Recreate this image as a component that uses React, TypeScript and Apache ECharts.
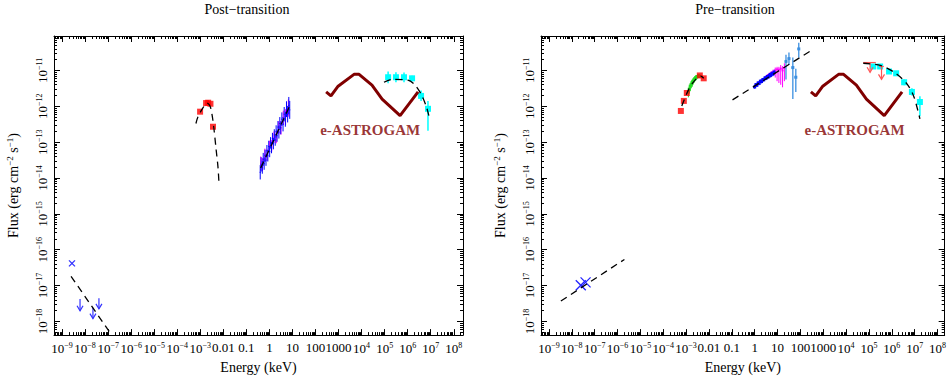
import React, { useEffect, useRef } from 'react';
import * as echarts from 'echarts';

const FONT = "'Liberation Serif', 'DejaVu Serif', serif";

// ---- axis ranges (log10 units) ----
const X_MIN = -9.35;
const X_MAX_POST = 8.4;
const X_MAX_PRE = 8.314;
const Y_MIN = -18.38;
const Y_MAX = -10.04;

// ---- tick labels ----
const xTickExp = [-9, -8, -7, -6, -5, -4, -3, -2, -1, 0, 1, 2, 3, 4, 5, 6, 7, 8];
const xTickText = [
  '{b|10}{s|−9}', '{b|10}{s|−8}', '{b|10}{s|−7}', '{b|10}{s|−6}', '{b|10}{s|−5}', '{b|10}{s|−4}', '{b|10}{s|−3}',
  '0.01', '0.1', '1', '10', '100', '1000',
  '{b|10}{s|4}', '{b|10}{s|5}', '{b|10}{s|6}', '{b|10}{s|7}', '{b|10}{s|8}',
];
const yTickExp = [-18, -17, -16, -15, -14, -13, -12, -11];
const yTickText = [
  '{b|10}{s|−18}', '{b|10}{s|−17}', '{b|10}{s|−16}', '{b|10}{s|−15}',
  '{b|10}{s|−14}', '{b|10}{s|−13}', '{b|10}{s|−12}', '{b|10}{s|−11}',
];

// ---- shared ----
const astrogam = [[2.46, -11.6], [2.67, -11.71], [2.98, -11.44], [3.67, -11.11], [3.89, -11.11], [4.45, -11.41], [4.89, -11.8], [5.67, -12.26], [6.45, -11.6]];
const astrogamLabel = [[4.37, -12.65]];

// ---- Post-transition (log10 E[keV], log10 F) ----
const postOptSquares = [[-3.01, -12.15], [-2.75, -11.91], [-2.66, -11.9], [-2.56, -11.93], [-2.45, -12.57]];
const postOptModel = [[-3.19, -12.48], [-3.1, -12.29], [-2.88, -12.04], [-2.71, -11.91], [-2.58, -11.99], [-2.49, -12.24], [-2.41, -12.62], [-2.32, -13.17], [-2.23, -13.72], [-2.19, -14.16]];
// [logE, logF, dy]
const postXrayMagenta = [[-0.38, -13.6, 0.2], [-0.3, -13.62, 0.18], [-0.2, -13.36, 0.18], [-0.1, -13.36, 0.16], [0.0, -13.12, 0.16], [0.1, -13.1, 0.16], [0.2, -12.86, 0.16], [0.3, -12.86, 0.17], [0.4, -12.6, 0.18], [0.5, -12.6, 0.19], [0.6, -12.32, 0.2], [0.7, -12.3, 0.22], [0.82, -12.05, 0.24]];
const postXrayBlue = [[-0.4, -13.84, 0.2], [-0.36, -13.62, 0.2], [-0.31, -13.7, 0.18], [-0.27, -13.48, 0.18], [-0.23, -13.6, 0.17], [-0.19, -13.38, 0.17], [-0.15, -13.5, 0.16], [-0.11, -13.24, 0.16], [-0.07, -13.38, 0.16], [-0.03, -13.12, 0.16], [0.01, -13.26, 0.16], [0.05, -13.02, 0.16], [0.09, -13.15, 0.16], [0.13, -12.9, 0.16], [0.17, -13.04, 0.16], [0.21, -12.8, 0.16], [0.25, -12.94, 0.16], [0.29, -12.7, 0.17], [0.33, -12.82, 0.17], [0.37, -12.58, 0.17], [0.41, -12.72, 0.18], [0.45, -12.48, 0.18], [0.49, -12.6, 0.18], [0.54, -12.36, 0.19], [0.59, -12.5, 0.2], [0.64, -12.22, 0.2], [0.69, -12.36, 0.21], [0.74, -12.08, 0.22], [0.79, -12.22, 0.23], [0.84, -11.98, 0.24], [0.88, -12.1, 0.25]];
const postXrayModel = [[-0.38, -13.72], [0.86, -12.02]];
// [logE, logF, yLo, yHi, xLo, xHi]
const postGamma = [[5.15, -11.19, -11.36, -11.03, 5.05, 5.27], [5.49, -11.19, -11.33, -11.05, 5.38, 5.6], [5.84, -11.19, -11.33, -11.06, 5.72, 5.95], [6.19, -11.22, -11.3, -11.15, 6.08, 6.3], [6.58, -11.71, -11.85, -11.56, 6.47, 6.69], [6.88, -12.07, -12.68, -11.85, 6.8, 6.96]];
const postGammaModel = [[4.97, -11.33], [5.32, -11.25], [6.01, -11.27], [6.32, -11.41], [6.58, -11.66], [6.8, -11.99], [6.93, -12.29]];
const postRadioCross = [[-8.57, -16.38]];
// [logE, top, bottom]
const postRadioLimits = [[-8.22, -17.37, -17.7], [-7.66, -17.62, -17.92], [-7.4, -17.35, -17.65]];
const postRadioModel = [[-8.61, -16.74], [-6.92, -18.31]];

// ---- Pre-transition ----
const preOptSquares = [[-3.23, -12.13], [-3.1, -11.85], [-2.97, -11.63], [-2.4, -11.14], [-2.23, -11.22]];
// [logE, logF, yLo, yHi]
const preOptGreen = [[-2.9, -11.6, -11.75, -11.5], [-2.86, -11.52, -11.64, -11.44], [-2.82, -11.44, -11.58, -11.36], [-2.78, -11.4, -11.5, -11.32], [-2.74, -11.34, -11.46, -11.27], [-2.7, -11.3, -11.4, -11.24], [-2.66, -11.26, -11.35, -11.2], [-2.62, -11.23, -11.3, -11.17], [-2.58, -11.2, -11.28, -11.14], [-2.54, -11.18, -11.25, -11.13], [-2.5, -11.17, -11.22, -11.12], [-2.46, -11.15, -11.2, -11.11], [-2.42, -11.16, -11.2, -11.12]];
const preOptModel = [[-3.19, -11.99], [-2.88, -11.52], [-2.58, -11.25], [-2.36, -11.16], [-2.23, -11.22]];
const preXrayBlue = [[0.0, -11.46, 0.05], [0.05, -11.4, 0.05], [0.1, -11.41, 0.05], [0.15, -11.35, 0.05], [0.2, -11.36, 0.05], [0.25, -11.3, 0.05], [0.3, -11.31, 0.05], [0.35, -11.26, 0.05], [0.4, -11.26, 0.05], [0.45, -11.21, 0.05], [0.5, -11.22, 0.05], [0.55, -11.17, 0.05], [0.6, -11.18, 0.05], [0.65, -11.13, 0.06], [0.7, -11.14, 0.06], [0.75, -11.09, 0.06], [0.8, -11.1, 0.06], [0.85, -11.05, 0.07]];
// [logE, logF, yLo, yHi]
const preXrayMagenta = [[0.48, -11.2, -11.25, -11.15], [0.56, -11.15, -11.2, -11.1], [0.64, -11.12, -11.18, -11.06], [0.72, -11.08, -11.15, -11.02], [0.8, -11.05, -11.12, -10.98], [0.9, -11.0, -11.2, -10.92], [0.98, -10.97, -11.3, -10.9], [1.06, -10.98, -11.35, -10.9], [1.14, -10.95, -11.4, -10.85], [1.22, -11.0, -11.47, -10.88], [1.3, -10.93, -11.3, -10.8]];
const preHardX = [[1.37, -10.75, -11.25, -10.56, 1.32, 1.42], [1.5, -10.67, -10.85, -10.5, 1.45, 1.55], [1.67, -10.92, -11.8, -10.64, 1.62, 1.72], [1.8, -11.19, -11.6, -10.95, 1.75, 1.85], [1.93, -10.4, -10.64, -10.23, 1.88, 1.98]];
const preXModel = [[-0.97, -11.82], [2.46, -10.45]];
const preGamma = [[5.19, -10.89, -10.95, -10.83, 5.08, 5.3], [5.49, -10.89, -10.95, -10.83, 5.38, 5.6], [5.88, -11.03, -11.09, -10.97, 5.77, 5.99], [6.19, -11.08, -11.14, -11.02, 6.08, 6.3], [6.54, -11.33, -11.41, -11.25, 6.43, 6.65], [6.88, -11.6, -11.7, -11.5, 6.78, 6.98], [7.23, -11.88, -12.28, -11.72, 7.15, 7.3]];
// [logE, top, bottom, xLo, xHi]
const preGammaLimits = [[5.05, -10.78, -11.05, 4.75, 5.3], [5.55, -10.89, -11.25, 5.45, 5.65]];
const preGammaModel = [[4.75, -10.8], [5.5, -10.86], [6.1, -11.05], [6.67, -11.38], [6.97, -11.74], [7.23, -12.35]];
const preRadioCross = [[-7.61, -16.99], [-7.4, -16.91]];
const preRadioModel = [[-8.48, -17.43], [-5.7, -16.27]];

// ---------------------------------------------------------------
const RICH = {
  b: { fontFamily: FONT, fontSize: 13, color: '#000' },
  s: { fontFamily: FONT, fontSize: 8, color: '#000', padding: [0, 0, 7, 0] },
  n: { fontFamily: FONT, fontSize: 14, color: '#000' },
  m: { fontFamily: FONT, fontSize: 9, color: '#000', padding: [0, 0, 7, 0] },
};

function minorTicks(min: number, max: number) {
  const out: number[] = [];
  for (let e = Math.floor(min); e <= Math.ceil(max); e++) {
    for (let k = 2; k <= 9; k++) {
      const v = e + Math.log10(k);
      if (v > min && v < max) out.push(v);
    }
  }
  return out;
}

function fmt(exps: number[], texts: string[]) {
  return (v: number) => {
    const i = exps.findIndex((e) => Math.abs(e - v) < 1e-6);
    return i >= 0 ? texts[i] : '';
  };
}

const LS = { color: '#000', width: 1 };

function axesFor(g: number, xmax: number) {
  const xMaj = xTickExp.filter((v) => v >= X_MIN && v <= xmax);
  const xMin = minorTicks(X_MIN, xmax);
  const yMaj = yTickExp.filter((v) => v >= Y_MIN && v <= Y_MAX);
  const yMin = minorTicks(Y_MIN, Y_MAX);
  const bx = { gridIndex: g, type: 'value', min: X_MIN, max: xmax, splitLine: { show: false } };
  const by = { gridIndex: g, type: 'value', min: Y_MIN, max: Y_MAX, splitLine: { show: false } };
  const xAxes = [
    {
      ...bx, position: 'bottom',
      axisLine: { show: true, onZero: false, lineStyle: LS },
      axisTick: { show: true, inside: true, length: 6, customValues: xMaj, lineStyle: LS },
      axisLabel: {
        show: true, customValues: xMaj, showMinLabel: true, showMaxLabel: true,
        formatter: fmt(xTickExp, xTickText), rich: RICH,
        fontFamily: FONT, fontSize: 13, color: '#000', margin: 6,
      },
      name: 'Energy (keV)', nameLocation: 'middle', nameGap: 21,
      nameTextStyle: { fontFamily: FONT, fontSize: 14, color: '#000' },
    },
    {
      ...bx, position: 'bottom',
      axisLine: { show: false, onZero: false },
      axisTick: { show: true, inside: true, length: 3, customValues: xMin, lineStyle: LS },
      axisLabel: { show: false },
    },
    {
      ...bx, position: 'top',
      axisLine: { show: true, onZero: false, lineStyle: LS },
      axisTick: { show: true, inside: true, length: 6, customValues: xMaj, lineStyle: LS },
      axisLabel: { show: false },
    },
    {
      ...bx, position: 'top',
      axisLine: { show: false, onZero: false },
      axisTick: { show: true, inside: true, length: 3, customValues: xMin, lineStyle: LS },
      axisLabel: { show: false },
    },
  ];
  const yAxes = [
    {
      ...by, position: 'left',
      axisLine: { show: true, onZero: false, lineStyle: LS },
      axisTick: { show: true, inside: true, length: 6, customValues: yMaj, lineStyle: LS },
      axisLabel: { show: true, customValues: yMaj, showMinLabel: true, showMaxLabel: true, formatter: fmt(yTickExp, yTickText), rich: RICH, fontFamily: FONT, fontSize: 13, color: '#000', margin: 4, rotate: 90 },
      name: '{n|Flux (erg cm}{m|−2}{n| s}{m|−1}{n|)}', nameLocation: 'middle', nameGap: 33, nameRotate: 90,
      nameTextStyle: { fontFamily: FONT, fontSize: 14, color: '#000', rich: RICH },
    },
    {
      ...by, position: 'left',
      axisLine: { show: false, onZero: false },
      axisTick: { show: true, inside: true, length: 3, customValues: yMin, lineStyle: LS },
      axisLabel: { show: false },
    },
    {
      ...by, position: 'right',
      axisLine: { show: true, onZero: false, lineStyle: LS },
      axisTick: { show: true, inside: true, length: 6, customValues: yMaj, lineStyle: LS },
      axisLabel: { show: false },
    },
    {
      ...by, position: 'right',
      axisLine: { show: false, onZero: false },
      axisTick: { show: true, inside: true, length: 3, customValues: yMin, lineStyle: LS },
      axisLabel: { show: false },
    },
  ];
  return { xAxes, yAxes };
}

// error-bar series: items [x, y, yLo, yHi, xLo?, xHi?]
function errSeries(data: number[][], color: string, ax: number, marker: number, lw = 1, z = 3) {
  return {
    type: 'custom',
    xAxisIndex: ax,
    yAxisIndex: ax,
    clip: true,
    z,
    dimensions: ['x', 'y', 'ylo', 'yhi', 'xlo', 'xhi'],
    encode: { x: 0, y: 1 },
    data: data.map((d) => [d[0], d[1], d[2], d[3], d.length > 4 ? d[4] : NaN, d.length > 5 ? d[5] : NaN]),
    renderItem: (params: any, api: any) => {
      const x = api.value(0), y = api.value(1);
      const ylo = api.value(2), yhi = api.value(3);
      const xlo = api.value(4), xhi = api.value(5);
      const c = api.coord([x, y]);
      const lo = api.coord([x, ylo]);
      const hi = api.coord([x, yhi]);
      const children: any[] = [
        { type: 'line', shape: { x1: c[0], y1: lo[1], x2: c[0], y2: hi[1] }, style: { stroke: color, lineWidth: lw } },
      ];
      if (xlo != null && !isNaN(xlo)) {
        const a = api.coord([xlo, y]);
        const b = api.coord([xhi, y]);
        children.push({ type: 'line', shape: { x1: a[0], y1: c[1], x2: b[0], y2: c[1] }, style: { stroke: color, lineWidth: lw } });
      }
      if (marker > 0) {
        children.push({ type: 'rect', shape: { x: c[0] - marker / 2, y: c[1] - marker / 2, width: marker, height: marker }, style: { fill: color } });
      }
      return { type: 'group', children };
    },
  };
}

function symErr(data: number[][]) {
  return data.map((d) => [d[0], d[1], d[1] - d[2], d[1] + d[2], d[0] - 0.025, d[0] + 0.025]);
}

// upper limits: [x, top, bottom, xLo?, xHi?]
function limitSeries(data: number[][], color: string, ax: number) {
  return {
    type: 'custom',
    xAxisIndex: ax,
    yAxisIndex: ax,
    clip: true,
    z: 4,
    dimensions: ['x', 'top', 'bot', 'xlo', 'xhi'],
    encode: { x: 0, y: 1 },
    data: data.map((d) => [d[0], d[1], d[2], d.length > 3 ? d[3] : NaN, d.length > 4 ? d[4] : NaN]),
    renderItem: (params: any, api: any) => {
      const x = api.value(0);
      const t = api.coord([x, api.value(1)]);
      const b = api.coord([x, api.value(2)]);
      const xlo = api.value(3), xhi = api.value(4);
      const children: any[] = [
        { type: 'line', shape: { x1: t[0], y1: t[1], x2: b[0], y2: b[1] }, style: { stroke: color, lineWidth: 1.2 } },
        { type: 'polyline', shape: { points: [[b[0] - 3, b[1] - 5], [b[0], b[1]], [b[0] + 3, b[1] - 5]] }, style: { stroke: color, fill: 'none', lineWidth: 1.2 } },
      ];
      if (xlo != null && !isNaN(xlo)) {
        const p = api.coord([xlo, api.value(1)]);
        const q = api.coord([xhi, api.value(1)]);
        children.push({ type: 'line', shape: { x1: p[0], y1: t[1], x2: q[0], y2: t[1] }, style: { stroke: color, lineWidth: 1.2 } });
      }
      return { type: 'group', children };
    },
  };
}

function crossSeries(data: number[][], color: string, ax: number, half: number) {
  return {
    type: 'custom',
    xAxisIndex: ax,
    yAxisIndex: ax,
    clip: true,
    z: 4,
    encode: { x: 0, y: 1 },
    data,
    renderItem: (params: any, api: any) => {
      const c = api.coord([api.value(0), api.value(1)]);
      return {
        type: 'group',
        children: [
          { type: 'line', shape: { x1: c[0] - half, y1: c[1] - half, x2: c[0] + half, y2: c[1] + half }, style: { stroke: color, lineWidth: 1.3 } },
          { type: 'line', shape: { x1: c[0] - half, y1: c[1] + half, x2: c[0] + half, y2: c[1] - half }, style: { stroke: color, lineWidth: 1.3 } },
        ],
      };
    },
  };
}

function dashed(data: number[][], ax: number, smooth = 0) {
  return {
    type: 'line', xAxisIndex: ax, yAxisIndex: ax, data, symbol: 'none', showSymbol: false, smooth,
    lineStyle: { color: '#000', width: 1.3, type: [7, 5] }, z: 5, silent: true,
  };
}

function squares(data: number[][], ax: number, color = '#ff0000', size = 6) {
  return { type: 'scatter', xAxisIndex: ax, yAxisIndex: ax, data, symbol: 'rect', symbolSize: size, itemStyle: { color }, z: 4 };
}

function astro(ax: number) {
  return [
    { type: 'line', xAxisIndex: ax, yAxisIndex: ax, data: astrogam, symbol: 'none', showSymbol: false, lineStyle: { color: '#800000', width: 3 }, z: 3 },
    {
      type: 'scatter', xAxisIndex: ax, yAxisIndex: ax, data: astrogamLabel, symbolSize: 1, itemStyle: { color: 'rgba(0,0,0,0)' },
      label: { show: true, position: 'inside', formatter: 'e-ASTROGAM', color: '#800000', fontFamily: FONT, fontWeight: 'bold', fontSize: 15 },
      z: 6,
    },
  ];
}

export default function App() {
  const ref = useRef<HTMLDivElement>(null);
  useEffect(() => {
    if (!ref.current) return;
    const chart = echarts.init(ref.current, undefined, { renderer: 'svg' });
    const a0 = axesFor(0, X_MAX_POST);
    const a1 = axesFor(1, X_MAX_PRE);
    const P = 0; // post axis index
    const Q = 4; // pre axis index
    chart.setOption({
      animation: false,
      backgroundColor: '#fff',
      grid: [
        { left: 54, top: 36, width: 409, height: 304 },
        { left: 541, top: 36, width: 407, height: 304 },
      ],
      xAxis: [...a0.xAxes, ...a1.xAxes],
      yAxis: [...a0.yAxes, ...a1.yAxes],
      graphic: [
        { type: 'text', x: 247, y: 9, style: { text: 'Post−transition', font: `14px ${FONT}`, fill: '#000', textAlign: 'center', textVerticalAlign: 'middle' } },
        { type: 'text', x: 735, y: 9, style: { text: 'Pre−transition', font: `14px ${FONT}`, fill: '#000', textAlign: 'center', textVerticalAlign: 'middle' } },
      ],
      series: [
        // ---- post ----
        ...astro(P),
        errSeries(symErr(postXrayMagenta), '#ff00ff', P, 0, 1),
        errSeries(symErr(postXrayBlue), '#0000ff', P, 0, 1),
        dashed(postXrayModel, P),
        squares(postOptSquares, P),
        dashed(postOptModel, P, 0.3),
        errSeries(postGamma, '#00ffff', P, 6, 1.5),
        dashed(postGammaModel, P, 0.3),
        crossSeries(postRadioCross, '#3333ff', P, 3),
        limitSeries(postRadioLimits, '#3333ff', P),
        dashed(postRadioModel, P),
        // ---- pre ----
        ...astro(Q),
        squares(preOptSquares, Q),
        errSeries(preOptGreen, '#22dd22', Q, 3, 1),
        dashed(preOptModel, Q, 0.3),
        errSeries(preXrayMagenta, '#ff00ff', Q, 2, 1),
        errSeries(symErr(preXrayBlue), '#0000ff', Q, 3, 1),
        errSeries(preHardX, '#3b8fe0', Q, 3, 1.3),
        dashed(preXModel, Q),
        limitSeries(preGammaLimits, '#ff5555', Q),
        errSeries(preGamma, '#00ffff', Q, 6, 1.5),
        dashed(preGammaModel, Q, 0.3),
        crossSeries(preRadioCross, '#2222ff', Q, 5),
        dashed(preRadioModel, Q),
      ],
    });
    return () => chart.dispose();
  }, []);
  return <div ref={ref} style={{ position: 'fixed', left: 0, top: 0, width: 949, height: 379, background: '#fff' }} />;
}
